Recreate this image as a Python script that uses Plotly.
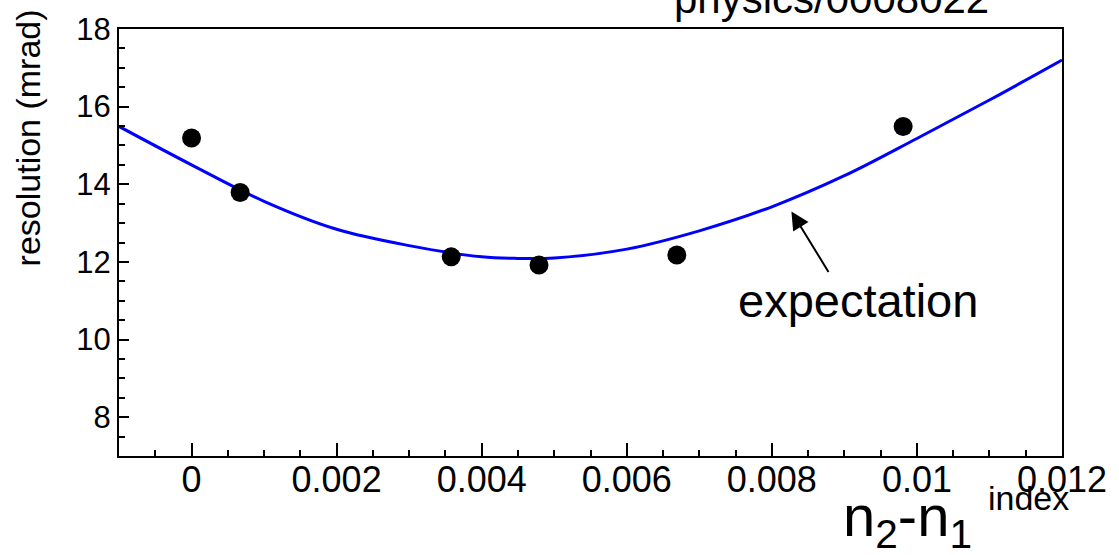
import plotly.graph_objects as go

# measured points
meas_x = [0.0, 0.00067, 0.00358, 0.00479, 0.00669, 0.00981]
meas_y = [15.19, 13.79, 12.13, 11.92, 12.18, 15.49]

# expectation curve
curve_x = [-0.001, 0.0, 0.001, 0.002, 0.003, 0.004, 0.0045, 0.005, 0.006, 0.007, 0.008, 0.009, 0.010, 0.011, 0.012]
curve_y = [15.49, 14.50, 13.56, 12.84, 12.42, 12.13, 12.09, 12.10, 12.33, 12.80, 13.42, 14.22, 15.18, 16.17, 17.20]

x_tickvals = [0, 0.002, 0.004, 0.006, 0.008, 0.01, 0.012]
x_ticktext = ["0", "0.002", "0.004", "0.006", "0.008", "0.01", "0.012"]
y_tickvals = [8, 10, 12, 14, 16, 18]
y_ticktext = ["8", "10", "12", "14", "16", "18"]

FONT = "Liberation Sans, Arial, Helvetica, sans-serif"

fig = go.Figure()
fig.add_trace(go.Scatter(x=curve_x, y=curve_y, mode="lines",
                         line=dict(color="#0000ff", width=3, shape="spline", smoothing=1.0),
                         showlegend=False, hoverinfo="skip"))
fig.add_trace(go.Scatter(x=meas_x, y=meas_y, mode="markers",
                         marker=dict(color="black", size=19),
                         showlegend=False))

fig.update_layout(
    width=1119, height=555,
    margin=dict(l=119, r=50, t=25, b=99),
    paper_bgcolor="white", plot_bgcolor="white",
    font=dict(family=FONT, color="black"),
    xaxis=dict(range=[-0.001, 0.012], showgrid=False, zeroline=False,
               showline=True, linecolor="black", linewidth=2, mirror=True,
               tickmode="array", tickvals=x_tickvals, ticktext=x_ticktext,
               ticks="inside", ticklen=13, tickwidth=2, tickcolor="black",
               ticklabelstandoff=-9,
               tickfont=dict(size=36, family=FONT, color="black"),
               minor=dict(dtick=0.0005, ticks="inside", ticklen=6, tickwidth=2, tickcolor="black", showgrid=False)),
    yaxis=dict(range=[7, 18], showgrid=False, zeroline=False,
               showline=True, linecolor="black", linewidth=2, mirror=True,
               tickmode="array", tickvals=y_tickvals, ticktext=y_ticktext,
               ticks="inside", ticklen=10, tickwidth=2, tickcolor="black",
               tickfont=dict(size=31, family=FONT, color="black"),
               minor=dict(dtick=0.5, ticks="inside", ticklen=6, tickwidth=2, tickcolor="black", showgrid=False)),
)

ann = []
ann.append(dict(text="resolution (mrad)", textangle=-90, xref="paper", yref="paper",
                x=-0.097, y=0.745, xanchor="center", yanchor="middle", showarrow=False,
                font=dict(size=34, family=FONT, color="black")))
ann.append(dict(text="physics/0008022", xref="paper", yref="paper",
                x=0.756, y=1.071, xanchor="center", yanchor="middle", showarrow=False,
                font=dict(size=42, family=FONT, color="black")))
ann.append(dict(text="expectation", xref="paper", yref="paper",
                x=0.784, y=0.364, xanchor="center", yanchor="middle", showarrow=False,
                font=dict(size=47, family=FONT, color="black")))
ann.append(dict(text="", x=0.00827, y=13.3, xref="x", yref="y",
                showarrow=True, ax=38, ay=62, arrowhead=2, arrowsize=1.8,
                arrowwidth=2, arrowcolor="black", standoff=0))
ann.append(dict(text="n<sub>2</sub>-n<sub>1</sub>", xref="paper", yref="paper",
                x=0.836, y=-0.150, xanchor="center", yanchor="middle", showarrow=False,
                font=dict(size=58, family=FONT, color="black")))
ann.append(dict(text="index", xref="paper", yref="paper",
                x=0.964, y=-0.098, xanchor="center", yanchor="middle", showarrow=False,
                font=dict(size=34, family=FONT, color="black")))
fig.update_layout(annotations=ann)

fig.write_html("out.html")
